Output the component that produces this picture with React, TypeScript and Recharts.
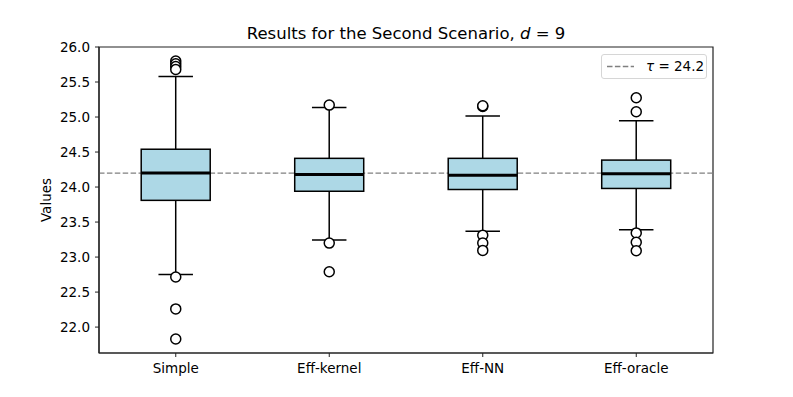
import React from 'react';
import { ComposedChart, Bar, Scatter, XAxis, YAxis, ReferenceLine, ReferenceArea, Legend } from 'recharts';

const categories = ['Simple', 'Eff-kernel', 'Eff-NN', 'Eff-oracle'];
const whiskerLow = [22.75, 23.245, 23.37, 23.39];
const q1 = [23.81, 23.94, 23.965, 23.98];
const median = [24.2, 24.18, 24.17, 24.19];
const q3 = [24.54, 24.41, 24.41, 24.385];
const whiskerHigh = [25.58, 25.135, 25.015, 24.945];
const outlierCategory = [
  'Simple', 'Simple', 'Simple', 'Simple', 'Simple', 'Simple', 'Simple',
  'Eff-kernel', 'Eff-kernel', 'Eff-kernel',
  'Eff-NN', 'Eff-NN', 'Eff-NN', 'Eff-NN', 'Eff-NN',
  'Eff-oracle', 'Eff-oracle', 'Eff-oracle', 'Eff-oracle', 'Eff-oracle',
];
const outlierValue = [
  25.8, 25.76, 25.72, 25.68, 22.715, 22.26, 21.83,
  25.17, 23.2, 22.79,
  25.15, 25.16, 23.31, 23.2, 23.095,
  25.275, 25.075, 23.345, 23.21, 23.09,
];
const tau = 24.2;
const yDomain = [21.63, 26.0];
const yTicks = [22.0, 22.5, 23.0, 23.5, 24.0, 24.5, 25.0, 25.5, 26.0];

const data = categories.map((name, i) => ({
  name,
  range: [whiskerLow[i], whiskerHigh[i]],
  lo: whiskerLow[i],
  q1: q1[i],
  med: median[i],
  q3: q3[i],
  hi: whiskerHigh[i],
}));

const outliers = outlierCategory.map((name, i) => ({ name, value: outlierValue[i] }));

const FONT = 'DejaVu Sans, sans-serif';

const BoxShape = (props: any) => {
  const { x, y, width, height, payload } = props;
  if (height == null || !payload) return null;
  const { lo, q1: a, med, q3: b, hi } = payload;
  const k = height / (hi - lo);
  const py = (v: number) => y + (hi - v) * k;
  const cx = x + width / 2;
  const capHalf = width / 4;
  return (
    <g>
      <line x1={cx} x2={cx} y1={py(hi)} y2={py(b)} stroke="#000" strokeWidth={1.5} />
      <line x1={cx} x2={cx} y1={py(a)} y2={py(lo)} stroke="#000" strokeWidth={1.5} />
      <line x1={cx - capHalf} x2={cx + capHalf} y1={py(hi)} y2={py(hi)} stroke="#000" strokeWidth={1.5} />
      <line x1={cx - capHalf} x2={cx + capHalf} y1={py(lo)} y2={py(lo)} stroke="#000" strokeWidth={1.5} />
      <rect x={x} y={py(b)} width={width} height={py(a) - py(b)} fill="#add8e6" stroke="#000" strokeWidth={1.5} />
      <line x1={x} x2={x + width} y1={py(med)} y2={py(med)} stroke="#000" strokeWidth={3} />
    </g>
  );
};

const OutlierShape = (props: any) => {
  const { cx, cy } = props;
  return <circle cx={cx} cy={cy} r={5} fill="#fff" stroke="#000" strokeWidth={1.5} />;
};

const LegendContent = () => (
  <div
    style={{
      position: 'relative',
      border: '1px solid #d6d6d6',
      borderRadius: 3,
      background: '#fff',
      width: 106,
      height: 25,
      fontFamily: FONT,
      fontSize: 13.5,
      color: '#000',
      boxSizing: 'border-box',
      whiteSpace: 'nowrap',
    }}
  >
    <svg width={40} height={23} style={{ position: 'absolute', left: 0, top: 0 }}>
      <line x1={5} x2={32} y1={11.5} y2={11.5} stroke="#808080" strokeWidth={1.5} strokeDasharray="5.5 2.4" />
    </svg>
    <span style={{ position: 'absolute', left: 44, top: 3, lineHeight: '16px' }}>
      <i>τ</i> = 24.2
    </span>
  </div>
);

export default function App() {
  return (
    <div style={{ width: 793, height: 397, position: 'relative', background: '#fff' }}>
      <style>{'body{margin:0;}'}</style>
      <ComposedChart
        width={793}
        height={397}
        data={data}
        margin={{ top: 47, right: 80, bottom: 0, left: 0 }}
        barCategoryGap="27.5%"
      >
        <XAxis
          dataKey="name"
          type="category"
          allowDuplicatedCategory={false}
          height={44}
          tickSize={4}
          tickMargin={6}
          tick={{ fill: '#000', fontSize: 13.5, fontFamily: FONT }}
          axisLine={{ stroke: '#222', strokeWidth: 1.2 }}
          tickLine={{ stroke: '#222' }}
        />
        <YAxis
          type="number"
          domain={yDomain}
          ticks={yTicks}
          allowDataOverflow
          width={99}
          tickSize={4}
          tickMargin={5}
          tickFormatter={(v: number) => v.toFixed(1)}
          tick={{ fill: '#000', fontSize: 13.5, fontFamily: FONT }}
          axisLine={{ stroke: '#222', strokeWidth: 1.2 }}
          tickLine={{ stroke: '#222' }}
          label={{
            value: 'Values',
            angle: -90,
            position: 'insideLeft',
            offset: 46,
            style: { fill: '#000', fontSize: 13.5, fontFamily: FONT, textAnchor: 'middle' },
          }}
        />
        <ReferenceArea
          x1={categories[0]}
          x2={categories[categories.length - 1]}
          y1={yDomain[0]}
          y2={yDomain[1]}
          fill="none"
          fillOpacity={0}
          stroke="#222"
          strokeWidth={1.2}
          zIndex={-10}
        />
        <ReferenceLine y={tau} stroke="#808080" strokeWidth={1.3} strokeDasharray="5.5 2.4" zIndex={-5} />
        <Bar dataKey="range" shape={<BoxShape />} isAnimationActive={false} legendType="none" />
        <Scatter
          data={outliers}
          dataKey="value"
          shape={<OutlierShape />}
          isAnimationActive={false}
          legendType="none"
        />
        <Legend
          layout="horizontal"
          verticalAlign="middle"
          align="center"
          content={<LegendContent />}
          wrapperStyle={{ top: 54, left: 601, width: 106 }}
        />
        <text x={406} y={39} textAnchor="middle" fontFamily={FONT} fontSize={16.5} fill="#000">
          Results for the Second Scenario, <tspan fontStyle="italic">d</tspan> = 9
        </text>
      </ComposedChart>
    </div>
  );
}
